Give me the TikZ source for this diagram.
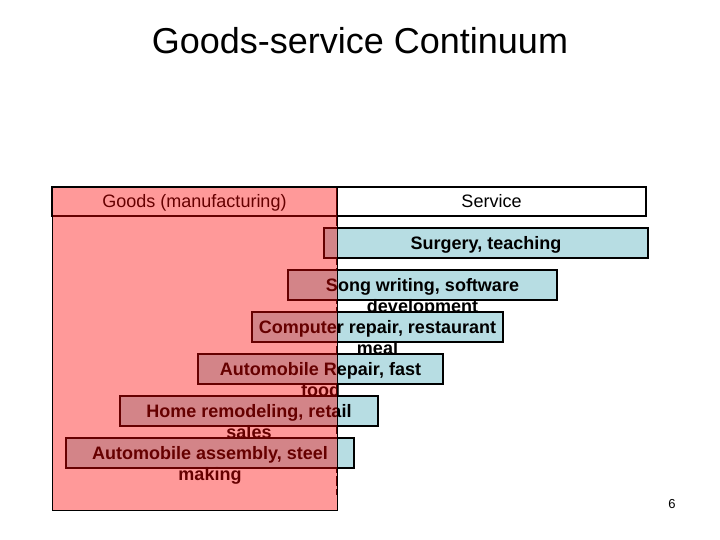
\documentclass[tikz,border=0pt]{standalone}
\usepackage{fontspec}
\setmainfont{Liberation Sans}
\usetikzlibrary{calc}
\definecolor{sky}{HTML}{B7DDE3}
\definecolor{rose}{HTML}{FF0000}
\tikzset{
  bar/.style={draw=black,line width=2pt,fill=sky,minimum height=30pt,inner sep=0pt,text height=12.9pt,text depth=0pt,font=\bfseries\fontsize{18}{21}\selectfont},
  wrap/.style={anchor=base,inner sep=0pt,font=\bfseries\fontsize{18}{21}\selectfont},
  head/.style={draw=black,line width=2.5pt,minimum height=29pt,inner sep=0pt,text height=12.9pt,text depth=0pt,font=\fontsize{18}{21}\selectfont},
  goods/.style={fill=rose,fill opacity=0.4,draw=black,line width=0.8pt},
}
\begin{document}
\begin{tikzpicture}[x=1pt,y=-1pt]
  \useasboundingbox (0,0) rectangle (720,540);
  \node[font=\fontsize{36}{42}\selectfont] (title) at (360,41) {Goods-service Continuum};
  % divider between goods and service
  \coordinate (divtop) at (337,216);
  \coordinate (divbot) at (337,495);
  \draw[line width=2pt,dash pattern=on 10pt off 3pt] (divtop) -- (divbot);
  % the continuum bars
  \node[bar,minimum width=324pt] (surgery) at (486,243) {Surgery, teaching};
  \node[bar,minimum width=269pt] (song) at (422.5,285) {Song writing, software};
  \node[wrap] (song2) at ($(song.base)+(0,21)$) {development};
  \node[bar,minimum width=251pt] (computer) at (377.5,327) {Computer repair, restaurant};
  \node[wrap] (computer2) at ($(computer.base)+(0,21)$) {meal};
  \node[bar,minimum width=245pt] (autorepair) at (320.5,369) {Automobile Repair, fast};
  \node[wrap] (autorepair2) at ($(autorepair.base)+(0,21)$) {food};
  \node[bar,minimum width=258pt] (home) at (249,411) {Home remodeling, retail};
  \node[wrap] (home2) at ($(home.base)+(0,21)$) {sales};
  \node[bar,minimum width=288pt] (assembly) at (210,453) {Automobile assembly, steel};
  \node[wrap] (assembly2) at ($(assembly.base)+(0,21)$) {making};
  % headers
  \node[head,fill=white,minimum width=309pt] (service) at (491.5,201.5) {Service};
  \node[head,minimum width=285pt] (goodshead) at (194.5,201.5) {Goods (manufacturing)};
  % goods region laid over everything
  \draw[goods] (52,187) rectangle (337,510);
  \node[font=\fontsize{13}{15}\selectfont] (page) at (672,504) {6};
\end{tikzpicture}
\end{document}
